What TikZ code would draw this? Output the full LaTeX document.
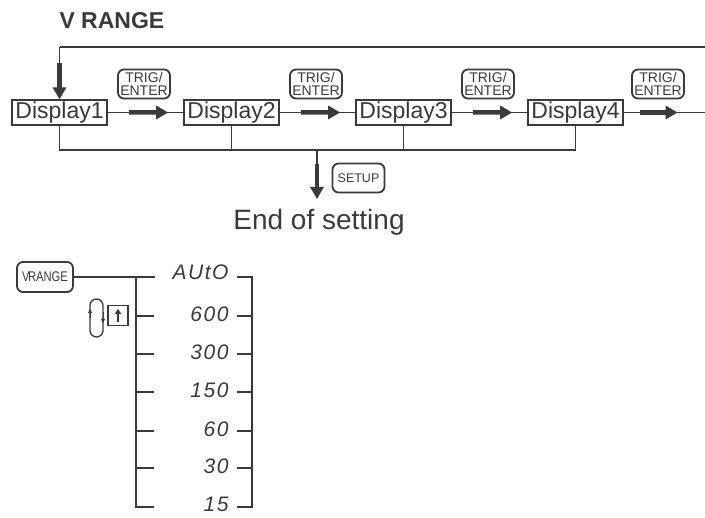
\documentclass[tikz,border=0pt]{standalone}
\usepackage{fontspec}
\setmainfont{Liberation Sans}
\usetikzlibrary{arrows.meta,calc}
\definecolor{ink}{HTML}{3A3A3A}
\tikzset{
  ln/.style={draw=ink, line width=1.3pt},
  disp/.style={draw=ink, line width=1.3pt, minimum width=95pt, minimum height=25pt, inner sep=0pt, font=\fontsize{23}{23}\selectfont, text=ink},
  keybox/.style={draw=ink, line width=1.8pt, rounded corners=6pt, minimum width=52pt, minimum height=29pt, inner sep=0pt, align=center, text=ink, font=\fontsize{14}{12.5}\selectfont},
  fat/.style={draw=ink, line width=4.5pt, -{Triangle[width=13pt,length=12pt]}},
  seg/.style={anchor=east, text=ink, font=\fontsize{21}{21}\selectfont\itshape\addfontfeatures{LetterSpace=7}},
}
\begin{document}
\begin{tikzpicture}[x=1pt,y=-1pt]
\useasboundingbox (0,0) rectangle (705,518);
% title
\node[anchor=west, text=ink, font=\fontsize{23}{23}\selectfont\bfseries] (title) at (56,21) {V RANGE};
% displays
\node[disp] (d1) at (59.5,112.5) {Display1};
\node[disp] (d2) at (231.5,112.5) {Display2};
\node[disp] (d3) at (403.5,112.5) {Display3};
\node[disp] (d4) at (575.5,112.5) {Display4};
% keys
\node[keybox] (k1) at (144,84) {TRIG/\\ENTER};
\node[keybox] (k2) at (316,84) {TRIG/\\ENTER};
\node[keybox] (k3) at (488,84) {TRIG/\\ENTER};
\node[keybox] (k4) at (658,84) {TRIG/\\ENTER};
% top loop
\coordinate (topR) at (705,47);
\coordinate (outR) at (705,112.5);
\draw[ln] (d1.north |- topR) -- (topR);
\draw[ln] (d1.north |- topR) -- ($(d1.north |- topR)+(0,18)$);
\draw[fat] ($(d1.north |- topR)+(0,16)$) -- (d1.north);
% connectors
\draw[ln] (d1) -- (d2);
\draw[ln] (d2) -- (d3);
\draw[ln] (d3) -- (d4);
\draw[ln] (d4.east) -- (outR);
\draw[fat] ($(d1.east)!0.28!(d2.west)$) -- ($(d1.east)!0.8!(d2.west)$);
\draw[fat] ($(d2.east)!0.28!(d3.west)$) -- ($(d2.east)!0.8!(d3.west)$);
\draw[fat] ($(d3.east)!0.28!(d4.west)$) -- ($(d3.east)!0.8!(d4.west)$);
\draw[fat] ($(d4.east)+(16,0)$) -- ($(d4.east)+(54,0)$);
% bus
\coordinate (bus) at (317,150);
\draw[ln] (d1.south) -- (d1.south |- bus) -- (d4.south |- bus) -- (d4.south);
\draw[ln] (d2.south) -- (d2.south |- bus);
\draw[ln] (d3.south) -- (d3.south |- bus);
% setup
\node[keybox, font=\fontsize{12.5}{12}\selectfont] (setup) at (358.5,178) {SETUP};
\coordinate (sarr) at (317,199);
\draw[ln] (bus) -- ($(bus)+(0,16)$);
\draw[fat] ($(bus)+(0,14)$) -- (sarr);
\node[text=ink, font=\fontsize{28}{28}\selectfont] (end) at (319,222) {End of setting};
% lower part
\node[keybox, minimum width=56pt, minimum height=30pt, font=\fontsize{14}{14}\selectfont\addfontfeatures{FakeStretch=0.8}] (vr) at (45,277) {V\kern-1.5pt RANGE};
\coordinate (lb) at (136,277);
\draw[ln] (vr.east) -- (155,277);
\draw[ln] (lb) -- (136,507) -- (154,507);
\foreach \y in {316,354,392,431,468} \draw[ln] (136,\y) -- (154,\y);
% values
\node[seg] (v1) at (232,272) {AUtO};
\node[seg] (v2) at (232,314) {600};
\node[seg] (v3) at (232,352) {300};
\node[seg] (v4) at (232,390) {150};
\node[seg] (v5) at (232,429) {60};
\node[seg] (v6) at (232,466) {30};
\node[seg] (v7) at (232,504) {15};
\draw[ln] (237,277) -- (252,277) -- (252,507) -- (237,507);
\foreach \y in {316,354,392,431,468} \draw[ln] (237,\y) -- (252,\y);
% loop icon
\draw[ln, rounded corners=6.5pt] (90,299) rectangle (103,337);
\draw[ink, -{Triangle[width=4pt,length=4pt]}, line width=0.8pt] (90,318) -- (90,309);
\draw[ink, -{Triangle[width=4pt,length=4pt]}, line width=0.8pt] (103,312) -- (103,323);
\node[draw=ink, line width=1.3pt, minimum width=20pt, minimum height=20pt, inner sep=0pt] (upk) at (118,315.5) {};
\draw[ink, line width=1.2pt, -{Triangle[width=6pt,length=5pt]}] ($(upk.south)+(0,-4)$) -- ($(upk.north)+(0,4)$);
\end{tikzpicture}
\end{document}
